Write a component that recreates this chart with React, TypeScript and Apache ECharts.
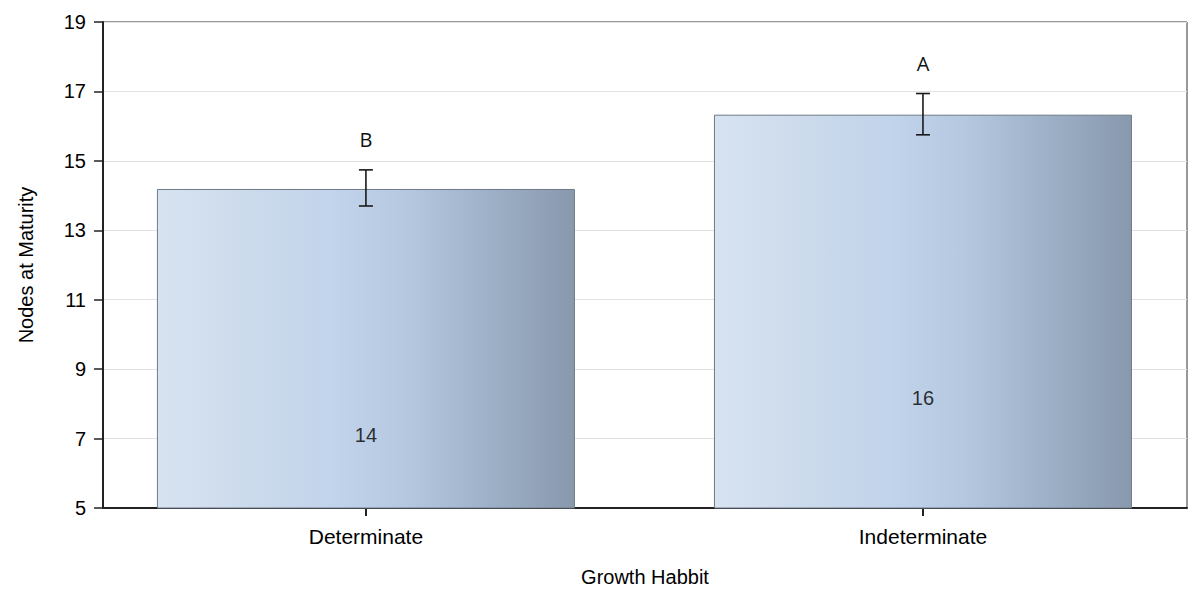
import React, { useEffect, useRef } from "react";
import * as echarts from "echarts";

const categories = ["Determinate", "Indeterminate"];
const means = [14.19, 16.33];
const lower = [13.7, 15.75];
const upper = [14.74, 16.94];
const letters = ["B", "A"];
const yTicks = { min: 5, max: 19, interval: 2 };

export default function App() {
  const ref = useRef<HTMLDivElement>(null);
  useEffect(() => {
    const chart = echarts.init(ref.current!, null, { renderer: "svg" });
    const font = "'Liberation Sans', Arial, sans-serif";
    const barData = means.map((v, i) => [i, v]);
    const errData = means.map((v, i) => [i, lower[i], upper[i]]);
    const midData = means.map((v, i) => [i, v / 2, Math.round(v)]);
    chart.setOption({
      animation: false,
      backgroundColor: "#ffffff",
      grid: {
        left: 95,
        right: 5,
        top: 14,
        bottom: 84,
        containLabel: false,
        outerBoundsMode: "none",
        show: true,
        borderColor: "#333333",
        borderWidth: 1,
      },
      xAxis: {
        type: "value",
        min: -0.472,
        max: 1.474,
        name: "Growth Habbit",
        nameLocation: "middle",
        nameGap: 59,
        nameTextStyle: { fontFamily: font, fontSize: 20, color: "#000" },
        axisLine: { show: true, onZero: false, lineStyle: { color: "#222", width: 2 } },
        axisTick: { show: true, customValues: [0, 1], length: 8, lineStyle: { color: "#222", width: 2 } },
        axisLabel: {
          customValues: [0, 1],
          formatter: (v: number) => categories[Math.round(v)] ?? "",
          fontFamily: font,
          fontSize: 21,
          color: "#000",
          margin: 18,
        },
        splitLine: { show: false },
      },
      yAxis: {
        type: "value",
        min: yTicks.min,
        max: yTicks.max,
        interval: yTicks.interval,
        name: "Nodes at Maturity",
        nameLocation: "middle",
        nameGap: 67,
        nameTextStyle: { fontFamily: font, fontSize: 20, color: "#000" },
        axisLine: { show: true, onZero: false, lineStyle: { color: "#222", width: 2 } },
        axisTick: { show: true, length: 9, lineStyle: { color: "#222", width: 1.5 } },
        axisLabel: { fontFamily: font, fontSize: 20, color: "#000", margin: 17 },
        splitLine: { show: true, lineStyle: { color: "#e2e2e2", width: 1 } },
      },
      series: [
        {
          type: "bar",
          data: barData,
          barWidth: 418,
          itemStyle: {
            borderColor: "#6f7a88",
            borderWidth: 1,
            color: new echarts.graphic.LinearGradient(0, 0, 1, 0, [
              { offset: 0, color: "#d7e3f1" },
              { offset: 0.25, color: "#cad9eb" },
              { offset: 0.42, color: "#c2d4eb" },
              { offset: 0.6, color: "#b5c8e0" },
              { offset: 0.8, color: "#9eb0c7" },
              { offset: 1, color: "#8899ae" },
            ]),
          },
          z: 2,
        },
        {
          type: "scatter",
          data: midData,
          symbolSize: 0,
          label: {
            show: true,
            position: "inside",
            formatter: (p: any) => String(p.value[2]),
            fontFamily: font,
            fontSize: 20,
            color: "#000",
          },
          z: 4,
        },
        {
          type: "custom",
          data: errData,
          z: 5,
          renderItem: (params: any, api: any) => {
            const x = api.value(0);
            const lo = api.coord([x, api.value(1)]);
            const hi = api.coord([x, api.value(2)]);
            const cap = 7;
            const style = { stroke: "#1a1a1a", lineWidth: 1.6 };
            return {
              type: "group",
              children: [
                { type: "line", shape: { x1: lo[0], y1: lo[1], x2: hi[0], y2: hi[1] }, style },
                { type: "line", shape: { x1: hi[0] - cap, y1: hi[1], x2: hi[0] + cap, y2: hi[1] }, style },
                { type: "line", shape: { x1: lo[0] - cap, y1: lo[1], x2: lo[0] + cap, y2: lo[1] }, style },
                {
                  type: "text",
                  x: hi[0],
                  y: hi[1] - 30,
                  style: {
                    text: letters[params.dataIndex],
                    fontFamily: "'Open Sans', sans-serif",
                    fontSize: 20,
                    fill: "#111",
                    align: "center",
                    verticalAlign: "middle",
                  },
                },
              ],
            };
          },
        },
      ],
    });
    return () => chart.dispose();
  }, []);
  return <div ref={ref} style={{ width: 1184, height: 584 }} />;
}
